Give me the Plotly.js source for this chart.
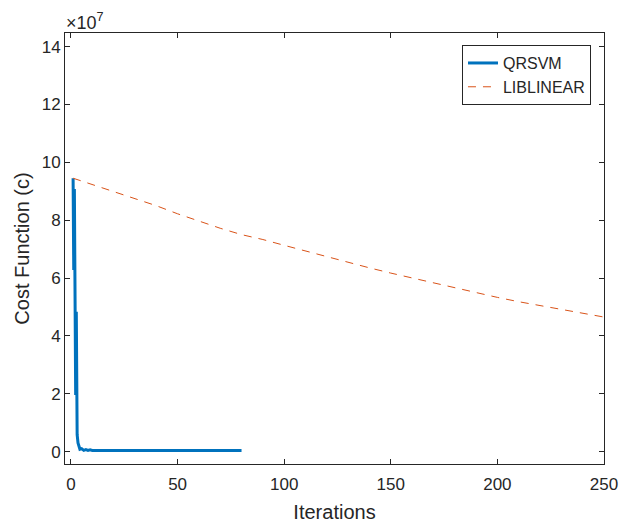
<!DOCTYPE html>
<html>
<head>
<meta charset="utf-8">
<script src="https://cdn.plot.ly/plotly-3.0.1.min.js"></script>
<style>html,body{margin:0;padding:0;background:#fff;}#chart{width:620px;height:523px;}</style>
</head>
<body>
<div id="chart"></div>
<script>
// Cost values are in units of 1e7 (shown by the "×10^7" axis exponent)
var qrsvmIter = [1, 1.3, 1.6, 2.2, 2.5, 2.9, 3.3, 3.7, 4.2, 5, 6, 7, 8, 9, 10, 12, 15, 20, 25, 30, 40, 50, 60, 70, 80];
var qrsvmCost = [9.45, 6.28, 9.08, 1.96, 4.83, 0.58, 0.30, 0.15, 0.08, 0.10, 0.04, 0.07, 0.04, 0.06, 0.04, 0.04, 0.04, 0.04, 0.04, 0.04, 0.04, 0.04, 0.04, 0.04, 0.04];

var liblinearIter = [1, 10, 20, 30, 40, 50, 60, 70, 80, 90, 100, 110, 120, 130, 140, 150, 160, 170, 180, 190, 200, 210, 220, 230, 240, 250];
var liblinearCost = [9.45, 9.23, 9.00, 8.75, 8.50, 8.22, 7.96, 7.72, 7.50, 7.33, 7.13, 6.93, 6.73, 6.53, 6.35, 6.17, 6.00, 5.83, 5.66, 5.49, 5.33, 5.18, 5.05, 4.92, 4.79, 4.65];

var xTicks = [0, 50, 100, 150, 200, 250];
var yTicks = [0, 2, 4, 6, 8, 10, 12, 14];

var axisColor = '#262626';
var fontFam = 'Liberation Sans, Arial, sans-serif';

var traces = [
  {x: qrsvmIter, y: qrsvmCost, type: 'scatter', mode: 'lines', name: 'QRSVM',
   line: {color: '#0072BD', width: 3}},
  {x: liblinearIter, y: liblinearCost, type: 'scatter', mode: 'lines', name: 'LIBLINEAR',
   line: {color: '#D95319', width: 1, dash: '8px,7px'}}
];

var layout = {
  width: 620, height: 523,
  margin: {l: 65, r: 16, t: 33, b: 59},
  paper_bgcolor: '#fff', plot_bgcolor: '#fff',
  font: {family: fontFam, color: axisColor, size: 17},
  showlegend: true,
  xaxis: {
    range: [-2.8, 250], tickvals: xTicks, ticktext: xTicks.map(String),
    ticks: 'inside', ticklen: 5, tickcolor: axisColor, tickwidth: 1,
    showline: true, linecolor: axisColor, linewidth: 1, mirror: 'ticks',
    showgrid: false, zeroline: false, ticklabelstandoff: 5,
    tickfont: {size: 17, color: axisColor, family: fontFam},
    title: {text: 'Iterations', font: {size: 20, color: axisColor, family: fontFam}, standoff: 13}
  },
  yaxis: {
    range: [-0.43, 14.47], tickvals: yTicks, ticktext: yTicks.map(String),
    ticks: 'inside', ticklen: 5, tickcolor: axisColor, tickwidth: 1,
    showline: true, linecolor: axisColor, linewidth: 1, mirror: 'ticks',
    showgrid: false, zeroline: false,
    tickfont: {size: 17, color: axisColor, family: fontFam},
    title: {text: 'Cost Function (c)', font: {size: 20, color: axisColor, family: fontFam}, standoff: 6}
  },
  legend: {
    x: 0.7365, y: 0.972, xanchor: 'left', yanchor: 'top',
    bgcolor: '#fff', bordercolor: axisColor, borderwidth: 1,
    font: {size: 16, color: axisColor, family: fontFam},
    tracegroupgap: 0, itemwidth: 30
  },
  annotations: [{
    text: '×10<sup>7</sup>', xref: 'paper', yref: 'paper', x: 0, y: 1,
    xanchor: 'left', yanchor: 'bottom', showarrow: false,
    font: {size: 18, color: axisColor, family: fontFam}, xshift: -1, yshift: -2
  }]
};

Plotly.newPlot('chart', traces, layout, {displayModeBar: false, staticPlot: true});
</script>
</body>
</html>
